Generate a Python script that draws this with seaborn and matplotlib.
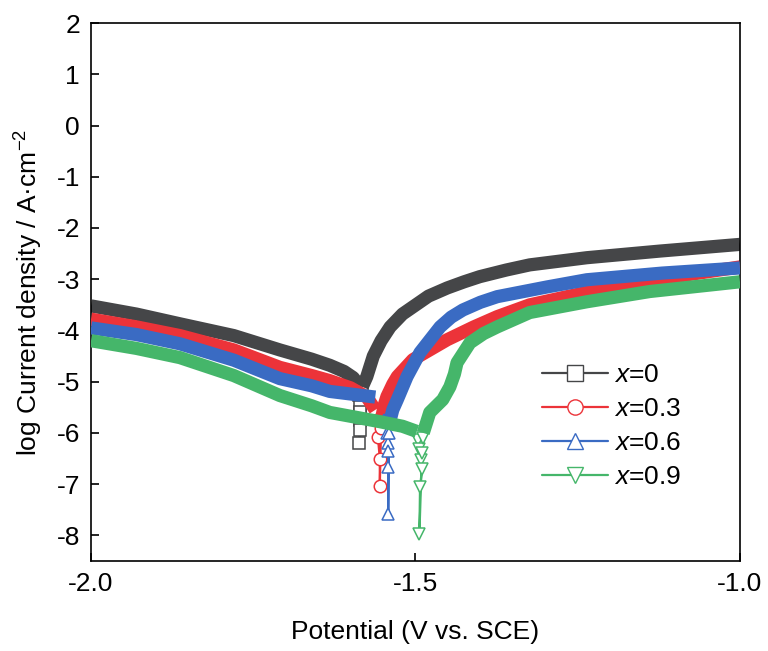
import numpy as np
import pandas as pd
import matplotlib.pyplot as plt
import seaborn as sns
from matplotlib.lines import Line2D

# composition labels, colours, markers
LABELS = ['0', '0.3', '0.6', '0.9']
COLORS = ['#454648', '#ec3339', '#3a6bc3', '#45b66a']
MARKERS = ['s', 'o', '^', 'v']

# x = 0 : cathodic branch, tip points around Ecorr, anodic branch
x0_cat_E = [-2.0, -1.93, -1.863, -1.78, -1.709, -1.66, -1.632, -1.61, -1.596, -1.588]
x0_cat_i = [-3.52, -3.68, -3.87, -4.10, -4.38, -4.56, -4.68, -4.80, -4.92, -5.05]
x0_tip_E = [-1.587, -1.586, -1.586, -1.585, -1.587, -1.585, -1.583]
x0_tip_i = [-5.25, -5.50, -5.75, -5.95, -6.19, -5.60, -5.20]
x0_an_E = [-1.582, -1.575, -1.565, -1.553, -1.539, -1.52, -1.504, -1.48, -1.451, -1.425,
           -1.401, -1.36, -1.324, -1.236, -1.123, -1.0]
x0_an_i = [-5.10, -4.90, -4.50, -4.20, -3.93, -3.68, -3.54, -3.33, -3.17, -3.05,
           -2.95, -2.82, -2.72, -2.58, -2.45, -2.32]

# x = 0.3
x3_cat_E = [-2.0, -1.93, -1.863, -1.78, -1.709, -1.66, -1.632, -1.60, -1.575, -1.562]
x3_cat_i = [-3.78, -3.93, -4.10, -4.38, -4.72, -4.88, -4.98, -5.12, -5.30, -5.55]
x3_tip_E = [-1.560, -1.558, -1.555, -1.555, -1.553]
x3_tip_i = [-5.75, -6.07, -6.50, -7.04, -5.90]
x3_an_E = [-1.552, -1.548, -1.544, -1.535, -1.528, -1.504, -1.451, -1.41, -1.374, -1.324,
           -1.216, -1.10, -1.0]
x3_an_i = [-5.70, -5.45, -5.29, -5.05, -4.90, -4.57, -4.18, -3.93, -3.73, -3.50,
           -3.20, -2.95, -2.76]

# x = 0.6
x6_cat_E = [-2.0, -1.93, -1.863, -1.78, -1.709, -1.66, -1.632, -1.60, -1.575, -1.562]
x6_cat_i = [-3.95, -4.08, -4.26, -4.58, -4.94, -5.08, -5.19, -5.24, -5.28, -5.30]
x6_tip_E = [-1.548, -1.544, -1.542, -1.542, -1.542, -1.542, -1.541]
x6_tip_i = [-5.75, -6.00, -6.19, -6.36, -6.67, -7.59, -6.00]
x6_an_E = [-1.540, -1.535, -1.528, -1.513, -1.493, -1.462, -1.445, -1.427, -1.40, -1.374,
           -1.297, -1.236, -1.12, -1.0]
x6_an_i = [-5.80, -5.55, -5.35, -4.90, -4.43, -3.93, -3.74, -3.60, -3.45, -3.34,
           -3.15, -3.01, -2.88, -2.78]

# x = 0.9
x9_cat_E = [-2.0, -1.93, -1.863, -1.78, -1.709, -1.66, -1.632, -1.555, -1.52, -1.498]
x9_cat_i = [-4.20, -4.35, -4.53, -4.88, -5.27, -5.47, -5.60, -5.78, -5.87, -5.97]
x9_tip_E = [-1.496, -1.494, -1.492, -1.490, -1.493, -1.494, -1.490, -1.488]
x9_tip_i = [-6.13, -6.32, -6.52, -6.71, -7.06, -7.98, -6.40, -6.10]
x9_an_E = [-1.488, -1.478, -1.458, -1.447, -1.440, -1.436, -1.416, -1.395, -1.374, -1.324,
           -1.236, -1.139, -1.0]
x9_an_i = [-6.00, -5.60, -5.35, -5.10, -4.85, -4.63, -4.24, -4.06, -3.93, -3.65,
           -3.44, -3.24, -3.05]

CAT_E = [x0_cat_E, x3_cat_E, x6_cat_E, x9_cat_E]
CAT_I = [x0_cat_i, x3_cat_i, x6_cat_i, x9_cat_i]
TIP_E = [x0_tip_E, x3_tip_E, x6_tip_E, x9_tip_E]
TIP_I = [x0_tip_i, x3_tip_i, x6_tip_i, x9_tip_i]
AN_E = [x0_an_E, x3_an_E, x6_an_E, x9_an_E]
AN_I = [x0_an_i, x3_an_i, x6_an_i, x9_an_i]

sns.set_theme(style='ticks')
plt.rcParams['font.family'] = ['Liberation Sans', 'DejaVu Sans']
plt.rcParams['mathtext.fontset'] = 'custom'
plt.rcParams['mathtext.rm'] = 'Liberation Sans'
plt.rcParams['mathtext.it'] = 'Liberation Sans:italic'
plt.rcParams['axes.unicode_minus'] = False
plt.rcParams['text.color'] = 'black'
plt.rcParams['axes.labelcolor'] = 'black'

FS = 19

fig = plt.figure(figsize=(7.68, 6.51), dpi=100)
ax = fig.add_axes([0.1185, 0.1382, 0.845, 0.8264])

for k in range(4):
    c = COLORS[k]
    # tip around corrosion potential: thin line + open markers
    tip = pd.DataFrame({'E': TIP_E[k], 'i': TIP_I[k]})
    sns.lineplot(data=tip, x='E', y='i', sort=False, estimator=None, ax=ax,
                 color=c, lw=1.6, marker=MARKERS[k], markersize=9,
                 markerfacecolor='white', markeredgecolor=c, markeredgewidth=1.1,
                 zorder=2 + k)
    # dense data bands
    for E, I in ((CAT_E[k], CAT_I[k]), (AN_E[k], AN_I[k])):
        d = pd.DataFrame({'E': E, 'i': I})
        sns.lineplot(data=d, x='E', y='i', sort=False, estimator=None, ax=ax,
                     color=c, lw=9.5, solid_capstyle='butt', solid_joinstyle='round',
                     zorder=2 + k)

ax.set_xlim(-2.0, -1.0)
ax.set_ylim(-8.5, 2)
ax.set_xticks([-2.0, -1.5, -1.0])
ax.set_xticklabels(['-2.0', '-1.5', '-1.0'])
ax.set_yticks(range(-8, 3))
ax.set_yticklabels([str(v) for v in range(-8, 3)])
ax.tick_params(direction='in', length=6, width=1.2, labelsize=FS, pad=8,
               colors='black')
for s in ax.spines.values():
    s.set_visible(True)
    s.set_linewidth(1.2)
    s.set_color('black')
ax.set_xlabel('Potential (V vs. SCE)', fontsize=FS, labelpad=17)
ax.set_ylabel('log Current density / A·cm$^{-2}$', fontsize=FS, labelpad=8)

handles = [Line2D([0], [0], color=COLORS[k], lw=1.6, marker=MARKERS[k], markersize=11,
                  markerfacecolor='white', markeredgecolor=COLORS[k], markeredgewidth=1.0)
           for k in range(4)]
ax.legend(handles, [f'$x$=' + v for v in LABELS], loc='upper left',
          bbox_to_anchor=(0.658, 0.412), frameon=False, fontsize=FS,
          handlelength=2.5, labelspacing=0.38, handletextpad=0.25)

fig.savefig('out.png', dpi=100)
